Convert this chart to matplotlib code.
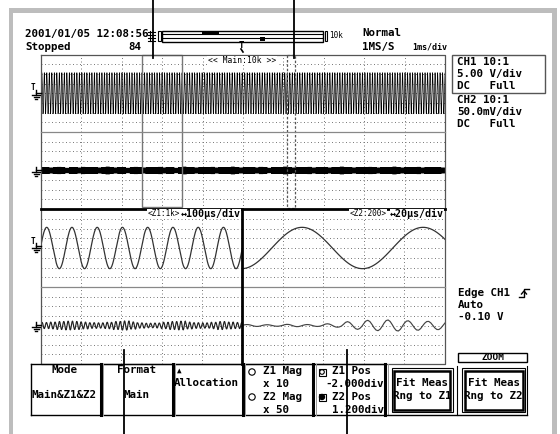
import numpy as np
import matplotlib
matplotlib.use('Agg')
import matplotlib.pyplot as plt
from matplotlib.patches import Rectangle, Circle

W, H = 560, 434

# scope settings
main_us_div = 1000.0
z1_us_div = 100.0
z2_us_div = 20.0
ch1_v_div = 5.0
ch2_mv_div = 50.0
sample_us = 1.0          # 1MS/s

# CH1 sine: amplitude, period and first peak time per window (main, z1, z2)
ch1_amp_v = 10.6
ch1_period_us = [62.0, 62.8, 59.6]
ch1_peak_us = [20.0, 14.2, 29.6]

# CH2 ripple: period per window and envelope amplitude (mV)
ch2_period_us = [10.5, 10.8, 9.9]
ch2_env_main = [14, 16, 13, 15, 17, 14, 12, 16, 15, 13, 17, 15, 14, 16, 13, 15, 18, 14, 13, 16,
                15, 12, 14, 17, 15, 13, 16, 14, 15, 17, 13, 16, 14, 12, 15, 18, 16, 14, 13, 15,
                16, 14, 17, 13, 15, 14, 16, 18, 15, 13, 14, 16, 15, 13, 17, 14, 12, 15, 16, 14,
                18, 15, 13, 16, 14, 15, 17, 13, 14, 16, 15, 13, 16, 14, 18, 15, 14, 13, 16, 15,
                14, 17, 15, 13, 16, 14, 15, 18, 14, 13, 16, 15, 14, 17, 13, 15, 16, 14, 15, 13]
                # one value per 100us
ch2_env_z1 = [16, 18, 21, 23, 21, 18, 15, 14, 17, 21, 24, 19, 14, 12, 13, 17, 21, 23, 18, 15,
              14, 17, 21, 18, 16]                       # one value per 20us
ch2_env_z2 = [5, 4, 6, 5, 9, 20, 27, 29, 25, 22]       # one value per 10us

fig = plt.figure(figsize=(W / 100, H / 100), dpi=100)

def px_axes(x0, y0, x1, y1):
    return fig.add_axes([x0 / W, 1 - y1 / H, (x1 - x0) / W, (y1 - y0) / H])

bg = fig.add_axes([0, 0, 1, 1])
bg.set_xlim(0, W)
bg.set_ylim(H, 0)
bg.axis('off')

MONO = 'DejaVu Sans Mono'

def txt(x, y, s, size=7.8, ha='left', ax=None, weight='bold', **kw):
    (ax or bg).text(x, y, s, fontsize=size, ha=ha, va='center', family=MONO,
                    fontweight=weight, color='black', **kw)

# outer gray frame
bg.add_patch(Rectangle((9, 8), 548, 5, color='#bdbdbd', lw=0))
bg.add_patch(Rectangle((9, 8), 4, 430, color='#bdbdbd', lw=0))
bg.add_patch(Rectangle((552, 8), 5, 430, color='#bdbdbd', lw=0))

# ---- header
txt(25, 34, '2001/01/05 12:08:56')
txt(25, 47, 'Stopped')
txt(128, 47, '84')
txt(362, 33, 'Normal')
txt(362, 47, '1MS/S')
txt(412, 47, '1ms/div', size=6.0)

# record bar
bg.add_patch(Rectangle((162, 30.5), 161, 11, fill=False, ec='black', lw=1))
bg.plot([162, 323], [34.2, 34.2], color='black', lw=0.8)
bg.plot([162, 323], [37.8, 37.8], color='black', lw=0.8)
bg.add_patch(Rectangle((158, 31), 2.5, 10, fill=False, ec='black', lw=0.8))
bg.add_patch(Rectangle((324.5, 31), 2.5, 10, fill=False, ec='black', lw=0.8))
bg.add_patch(Rectangle((202, 31.5), 17, 3, color='black', lw=0))
bg.add_patch(Rectangle((260, 37), 4.5, 3.5, color='black', lw=0))
for yy in (32, 35, 38, 41):
    bg.plot([148, 155], [yy, yy], color='black', lw=0.8)
bg.plot([150, 150], [31, 41], color='black', lw=0.8)
txt(329, 36, '10k', size=5.5, weight='normal')
txt(241, 45, 'T', size=6.5, ha='center')
bg.plot([241, 243], [49, 52], color='black', lw=1.2)

# ---- waveform panels
MX0, MX1 = 41, 445
ZX = 242
Y0, Y1, Y2, Y3, Y4 = 54.5, 132, 209, 287, 364

def setup(ax, span_us, ndiv_x, ylim):
    ax.set_xlim(0, span_us)
    ax.set_ylim(-ylim, ylim)
    ax.axis('off')
    ax.patch.set_alpha(0)
    for k in range(1, ndiv_x):
        ax.axvline(span_us * k / ndiv_x, color='#777', lw=0.7, ls=(0, (1, 2.6)))
    for k in range(-3, 4):
        ax.axhline(ylim * k / 4, color='#777', lw=0.7, ls=(0, (1, 2.6)))

def ch1(t, i):
    return ch1_amp_v * np.cos(2 * np.pi * (t - ch1_peak_us[i]) / ch1_period_us[i])

def ch2(t, i, env, seg_us):
    idx = np.minimum((t // seg_us).astype(int), len(env) - 1)
    return np.array(env, float)[idx] * np.sin(2 * np.pi * t / ch2_period_us[i])

main_span = 10 * main_us_div
z1_span = 5 * z1_us_div
z2_span = 5 * z2_us_div

t = np.arange(0, main_span + sample_us, sample_us)

a1 = px_axes(MX0, Y0, MX1, Y1)
setup(a1, main_span, 10, 4 * ch1_v_div)
a1.plot(t, ch1(t, 0), color='black', lw=0.5)

a2 = px_axes(MX0, Y1, MX1, Y2)
setup(a2, main_span, 10, 4 * ch2_mv_div)
a2.plot(t, ch2(t, 0, ch2_env_main, 100), color='black', lw=0.6)

a3 = px_axes(MX0, Y2, ZX, Y3)
setup(a3, z1_span, 5, 4 * ch1_v_div)
t1 = np.arange(0, z1_span + sample_us, sample_us)
a3.plot(t1, ch1(t1, 1), color='#333', lw=0.9)

a4 = px_axes(MX0, Y3, ZX, Y4)
setup(a4, z1_span, 5, 4 * ch2_mv_div)
a4.plot(t1, ch2(t1, 1, ch2_env_z1, 20), color='#222', lw=0.85)

a5 = px_axes(ZX, Y2, MX1, Y3)
setup(a5, z2_span, 5, 4 * ch1_v_div)
t2 = np.arange(0, z2_span + sample_us, sample_us)
a5.plot(t2, ch1(t2, 2), color='#333', lw=0.9)

a6 = px_axes(ZX, Y3, MX1, Y4)
setup(a6, z2_span, 5, 4 * ch2_mv_div)
a6.plot(t2, ch2(t2, 2, ch2_env_z2, 10), color='#444', lw=0.85)

# panel frames (on top of traces)
top = fig.add_axes([0, 0, 1, 1])
top.set_xlim(0, W)
top.set_ylim(H, 0)
top.axis('off')
top.patch.set_alpha(0)

top.plot([MX0, MX1, MX1, MX0, MX0], [Y0, Y0, Y4, Y4, Y0], color='#555', lw=0.9)
top.plot([MX0, MX1], [Y1, Y1], color='#888', lw=0.9)
top.plot([MX0, MX1], [Y3, Y3], color='#888', lw=0.9)
top.plot([MX0, MX1], [Y2, Y2], color='black', lw=2)
top.plot([ZX, ZX], [Y2, Y4], color='black', lw=2)

# zoom boxes on main
top.add_patch(Rectangle((142, Y0), 40, 207 - Y0, fill=False, ec='#777', lw=1))
top.add_patch(Rectangle((287, Y0), 8, 208 - Y0, fill=False, ec='#555', lw=0.9, ls=(0, (2, 1.5))))
txt(242, 60.5, '<< Main:10k >>', size=5.8, ha='center', ax=top, weight='normal',
    bbox=dict(fc='white', ec='none', pad=0.3))
txt(164, 214, '<Z1:1k>', size=5.6, ha='center', ax=top, weight='normal',
    bbox=dict(fc='white', ec='none', pad=0.3))
txt(241, 214, '\u2194100\u00b5s/div', size=7.2, ha='right', ax=top,
    bbox=dict(fc='white', ec='none', pad=0.2))
txt(368, 214, '<Z2:200>', size=5.6, ha='center', ax=top, weight='normal',
    bbox=dict(fc='white', ec='none', pad=0.3))
txt(444, 214, '\u219420\u00b5s/div', size=7.2, ha='right', ax=top,
    bbox=dict(fc='white', ec='none', pad=0.2))

# ground / trigger markers
def ground(y, trig=False):
    top.plot([36, 41], [y, y], color='black', lw=1)
    top.plot([36, 36], [y - 3, y + 2], color='black', lw=1)
    top.plot([32, 40], [y + 2, y + 2], color='black', lw=1)
    top.plot([33.5, 38.5], [y + 4, y + 4], color='black', lw=1)
    top.plot([35, 37], [y + 6, y + 6], color='black', lw=1)
    if trig:
        top.text(33, y - 5, 'T', fontsize=5.5, family=MONO, fontweight='bold',
                 ha='center', va='center')

ground(93, True)
ground(170)
ground(246, True)
ground(325)

# ---- right side channel info
bg.add_patch(Rectangle((452, 55), 93, 38, fill=False, ec='#555', lw=1))
txt(457, 62, 'CH1 10:1')
txt(457, 74, '5.00 V/div')
txt(457, 86, 'DC   Full')
txt(457, 100, 'CH2 10:1')
txt(457, 112, '50.0mV/div')
txt(457, 124, 'DC   Full')
txt(458, 293, 'Edge CH1')
txt(458, 305, 'Auto')
txt(458, 317, '-0.10 V')
bg.plot([519, 524, 524, 529], [297, 297, 289, 289], color='black', lw=1)
bg.plot([521.5, 524, 526.5], [294, 291, 294], color='black', lw=1)

# ---- soft keys
BT, BB = 364, 415
top.plot([31, 385], [BT, BT], color='black', lw=1)
top.plot([31, 385], [BB, BB], color='black', lw=1)
top.plot([31, 31], [BT, BB], color='black', lw=1)
for xx in (100.5, 172.5, 242.5, 313, 385):
    top.plot([xx, xx], [BT, BB], color='black', lw=2.2)
    top.plot([xx + 2.5, xx + 2.5], [BT, BB], color='#999', lw=0.7)

txt(64, 370, 'Mode', ha='center', ax=top)
txt(64, 395, 'Main&Z1&Z2', ha='center', ax=top)
txt(136, 370, 'Format', ha='center', ax=top)
txt(136, 395, 'Main', ha='center', ax=top)
txt(179, 370, '\u25b2', size=5.5, ha='center', ax=top)
txt(174, 383, 'Allocation', ax=top)

top.add_patch(Circle((252, 372), 3.2, fill=False, ec='black', lw=0.8))
top.add_patch(Circle((252, 397), 3.2, fill=False, ec='black', lw=0.8))
txt(263, 371, 'Z1 Mag', ax=top)
txt(263, 384, 'x 10', ax=top)
txt(263, 397, 'Z2 Mag', ax=top)
txt(263, 410, 'x 50', ax=top)

top.add_patch(Rectangle((318.5, 368.5), 7, 7, fill=False, ec='black', lw=0.8))
top.add_patch(Circle((322, 372), 2.3, fill=False, ec='black', lw=0.8))
top.add_patch(Rectangle((318.5, 393.5), 7, 7, fill=False, ec='black', lw=0.8))
top.add_patch(Circle((322, 397), 2.5, color='black'))
txt(332, 371, 'Z1 Pos', ax=top)
txt(384, 384, '-2.000div', ha='right', ax=top)
txt(332, 397, 'Z2 Pos', ax=top)
txt(384, 410, '1.200div', ha='right', ax=top)

# ZOOM group
top.add_patch(Rectangle((458, 353), 69, 9, fill=False, ec='black', lw=1))
txt(492.5, 357.5, 'ZOOM', size=6.8, ha='center', ax=top)
top.plot([387, 527], [BB, BB], color='black', lw=1)
top.plot([456.5, 456.5], [366, BB], color='black', lw=0.8)
top.plot([527, 527], [366, BB], color='black', lw=0.8)
for bx0, bx1, lab in ((391.5, 452.5, 'Z1'), (462, 525, 'Z2')):
    top.add_patch(Rectangle((bx0, 368), bx1 - bx0, 44, fill=False, ec='black', lw=0.8))
    top.add_patch(Rectangle((bx0 + 2.5, 370.5), bx1 - bx0 - 5, 39, fill=False, ec='black', lw=1.8))
    txt((bx0 + bx1) / 2, 383, 'Fit Meas', ha='center', ax=top)
    txt((bx0 + bx1) / 2, 396, 'Rng to ' + lab, ha='center', ax=top)

# callout pointers
for xx in (153, 293.5):
    top.plot([xx, xx], [0, 58], color='black', lw=1.3)
for xx in (124, 347):
    top.plot([xx, xx], [350, H], color='black', lw=1.3)

fig.savefig('out.png', dpi=100)
